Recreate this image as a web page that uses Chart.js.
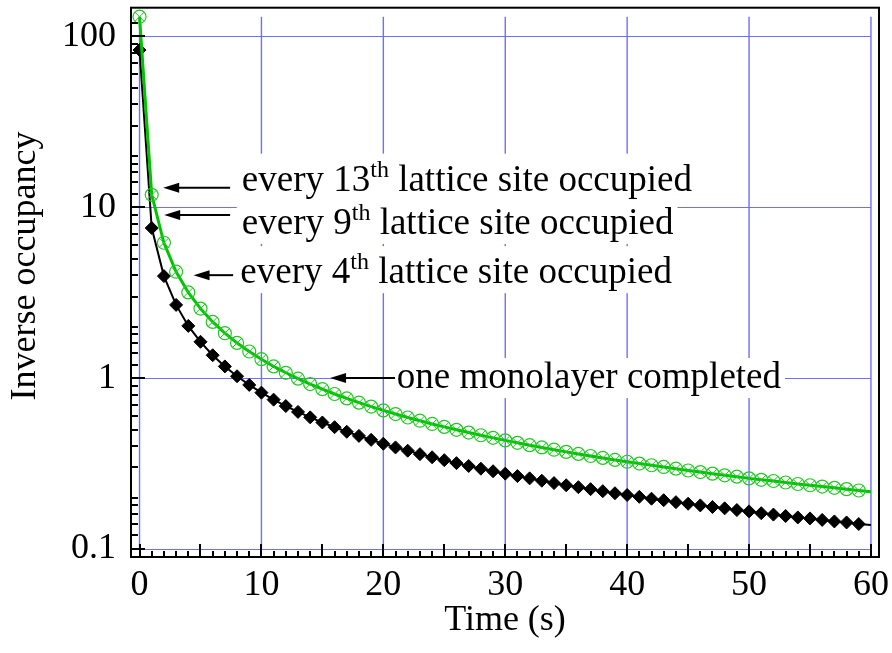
<!DOCTYPE html>
<html lang="en">
<head>
  <meta charset="UTF-8">
  <title>Inverse occupancy vs time</title>
  <script src="https://cdn.jsdelivr.net/npm/chart.js@4.4.5/dist/chart.umd.min.js"></script>
  <style>
    html, body { margin: 0; padding: 0; background: #fff; }
    #wrap { width: 892px; height: 653px; }
  </style>
</head>
<body>
  <div id="wrap"><canvas id="occupancyChart" width="892" height="653"></canvas></div>

  <script>
    // Time axis (s), one sample per second
    const times = [0, 1, 2, 3, 4, 5, 6, 7, 8, 9, 10, 11, 12, 13, 14, 15, 16, 17, 18, 19,
      20, 21, 22, 23, 24, 25, 26, 27, 28, 29, 30, 31, 32, 33, 34, 35, 36, 37, 38, 39,
      40, 41, 42, 43, 44, 45, 46, 47, 48, 49, 50, 51, 52, 53, 54, 55, 56, 57, 58, 59, 60];

    // Green series (open circles with cross)
    const greenValues = [130, 11.8, 6.19, 4.19, 3.17, 2.55, 2.13, 1.83, 1.605, 1.43,
      1.29, 1.17, 1.074, 0.992, 0.922, 0.861, 0.807, 0.760, 0.718, 0.681,
      0.647, 0.616, 0.588, 0.563, 0.539, 0.518, 0.498, 0.480, 0.463, 0.447,
      0.432, 0.418, 0.405, 0.393, 0.381, 0.370, 0.360, 0.350, 0.341, 0.332,
      0.324, 0.316, 0.309, 0.302, 0.295, 0.288, 0.282, 0.276, 0.270, 0.265,
      0.259, 0.254, 0.250, 0.245, 0.240, 0.236, 0.232, 0.228, 0.224, 0.220, 0.216];

    // Black series (filled diamonds)
    const blackValues = [83, 7.55, 3.95, 2.68, 2.02, 1.63, 1.36, 1.17, 1.025, 0.912,
      0.822, 0.748, 0.686, 0.634, 0.589, 0.550, 0.516, 0.485, 0.459, 0.435,
      0.413, 0.393, 0.376, 0.359, 0.344, 0.331, 0.318, 0.306, 0.295, 0.285,
      0.276, 0.267, 0.259, 0.251, 0.243, 0.236, 0.230, 0.224, 0.218, 0.212,
      0.207, 0.202, 0.197, 0.193, 0.188, 0.184, 0.180, 0.176, 0.173, 0.169,
      0.166, 0.162, 0.159, 0.156, 0.153, 0.151, 0.148, 0.145, 0.143, 0.140, 0.138];

    const xTickValues = [0, 10, 20, 30, 40, 50, 60];
    const xTickLabels = ['0', '10', '20', '30', '40', '50', '60'];
    const yTickValues = [0.1, 1, 10, 100];
    const yTickLabels = ['0.1', '1', '10', '100'];
    const yMinorTicks = [1.2, 1.4, 1.6, 1.8, 2, 3, 4, 5, 6, 7, 8, 9];

    const lastMarker = times.length - 2;   // the curve runs on to 60 s, markers stop at 59 s
    const serif = '"Liberation Serif", "Times New Roman", serif';
    const gridBlue = '#6f6fff';
    const green = '#00c400';

    const notes = [
      { pre: 'every 13', sup: 'th', post: ' lattice site occupied', level: 13, tipX: 1.94, tailX: 7.43, textX: 8.39, dy: 3 },
      { pre: 'every 9', sup: 'th', post: ' lattice site occupied', level: 9, tipX: 2.02, tailX: 7.43, textX: 8.39, dy: 19 },
      { pre: 'every 4', sup: 'th', post: ' lattice site occupied', level: 4, tipX: 4.43, tailX: 7.68, textX: 8.27, dy: 8 },
      { pre: 'one monolayer completed', sup: '', post: '', level: 1, tipX: 15.63, tailX: 20.96, textX: 21.1, dy: 10 }
    ];

    function pts(values) {
      return times.map((t, i) => ({ x: t, y: values[i] }));
    }

    function markerRadius(r) {
      return ctx => (ctx.dataIndex <= lastMarker ? r : 0);
    }

    // measure a note: returns pixel positions of its pieces
    function layoutNote(ctx, note, xs, ys) {
      const arrowY = ys.getPixelForValue(note.level);
      const left = xs.getPixelForValue(note.textX);
      const base = arrowY + note.dy;
      ctx.font = '37px ' + serif;
      const wPre = ctx.measureText(note.pre).width;
      const wPost = ctx.measureText(note.post).width;
      ctx.font = '24px ' + serif;
      const wSup = note.sup ? ctx.measureText(note.sup).width : 0;
      return {
        arrowY, left, base, wPre, wSup,
        right: left + wPre + wSup + wPost,
        top: base - (note.sup ? 37 : 30),
        bottom: base + 10
      };
    }

    const decorations = {
      id: 'decorations',
      beforeDatasetsDraw(chart) {
        const { ctx, scales: { x, y } } = chart;
        ctx.save();
        // grid lines cover the data range only
        ctx.strokeStyle = gridBlue;
        ctx.lineWidth = 1.4;
        ctx.beginPath();
        for (const v of xTickValues) {
          const px = x.getPixelForValue(v);
          ctx.moveTo(px, y.getPixelForValue(0.1));
          ctx.lineTo(px, y.getPixelForValue(130));
        }
        ctx.stroke();
        ctx.lineWidth = 1;
        ctx.beginPath();
        for (const v of yTickValues) {
          const py = Math.round(y.getPixelForValue(v)) + 0.5;
          ctx.moveTo(x.getPixelForValue(0), py);
          ctx.lineTo(x.getPixelForValue(60), py);
        }
        ctx.stroke();
        // white boxes behind the notes
        ctx.fillStyle = '#fff';
        for (const n of notes) {
          const L = layoutNote(ctx, n, x, y);
          ctx.fillRect(L.left - 5, L.top, L.right - L.left + 9, L.bottom - L.top);
        }
        ctx.restore();
      },
      afterDatasetsDraw(chart) {
        const { ctx, chartArea: a, scales: { x, y } } = chart;
        ctx.save();
        // notes with arrows
        for (const n of notes) {
          const L = layoutNote(ctx, n, x, y);
          const tip = x.getPixelForValue(n.tipX);
          const tail = x.getPixelForValue(n.tailX);
          ctx.strokeStyle = '#000';
          ctx.fillStyle = '#000';
          ctx.lineWidth = 2;
          ctx.beginPath();
          ctx.moveTo(tail, L.arrowY);
          ctx.lineTo(tip + 10, L.arrowY);
          ctx.stroke();
          ctx.beginPath();
          ctx.moveTo(tip, L.arrowY);
          ctx.lineTo(tip + 16, L.arrowY - 5);
          ctx.lineTo(tip + 16, L.arrowY + 5);
          ctx.closePath();
          ctx.fill();

          ctx.textAlign = 'left';
          ctx.textBaseline = 'alphabetic';
          ctx.font = '37px ' + serif;
          ctx.fillText(n.pre, L.left, L.base);
          if (n.sup) {
            ctx.font = '24px ' + serif;
            ctx.fillText(n.sup, L.left + L.wPre, L.base - 14);
            ctx.font = '37px ' + serif;
            ctx.fillText(n.post, L.left + L.wPre + L.wSup, L.base);
          }
        }

        // frame
        ctx.strokeStyle = '#000';
        ctx.lineWidth = 2;
        ctx.strokeRect(a.left, a.top, a.right - a.left, a.bottom - a.top);

        // inward ticks
        ctx.lineWidth = 2;
        ctx.beginPath();
        for (let v = 0; v <= 60; v++) {
          const px = Math.round(x.getPixelForValue(v));
          const len = v % 5 === 0 ? 13 : 6;
          ctx.moveTo(px, a.bottom);
          ctx.lineTo(px, a.bottom - len);
        }
        for (const d of [0.1, 1, 10, 100]) {
          const py = Math.round(y.getPixelForValue(d));
          ctx.moveTo(a.left, py);
          ctx.lineTo(a.left + 14, py);
          for (const m of yMinorTicks) {
            const v = d * m;
            if (v > 130) continue;
            const pm = Math.round(y.getPixelForValue(v));
            ctx.moveTo(a.left, pm);
            ctx.lineTo(a.left + 7, pm);
          }
        }
        ctx.stroke();

        // axis titles
        ctx.fillStyle = '#000';
        ctx.font = '36px ' + serif;
        ctx.textAlign = 'center';
        ctx.textBaseline = 'alphabetic';
        ctx.fillText('Time (s)', (a.left + a.right) / 2, 630);
        ctx.translate(35, 266);
        ctx.rotate(-Math.PI / 2);
        ctx.fillText('Inverse occupancy', 0, 0);
        ctx.restore();
      }
    };

    new Chart(document.getElementById('occupancyChart'), {
      type: 'line',
      data: {
        datasets: [
          {
            label: 'green crosses',
            data: pts(greenValues),
            showLine: false,
            pointStyle: 'crossRot',
            pointRadius: markerRadius(6.5),
            pointBorderColor: '#22c822',
            pointBorderWidth: 1,
            pointBackgroundColor: 'rgba(0,0,0,0)'
          },
          {
            label: 'green',
            data: pts(greenValues),
            borderColor: green,
            borderWidth: 3,
            tension: 0,
            pointStyle: 'circle',
            pointRadius: markerRadius(6.5),
            pointBorderColor: '#22c822',
            pointBorderWidth: 1.2,
            pointBackgroundColor: 'rgba(0,0,0,0)'
          },
          {
            label: 'black',
            data: pts(blackValues),
            borderColor: '#000',
            borderWidth: 2,
            tension: 0,
            pointStyle: 'rectRot',
            pointRadius: markerRadius(6.5),
            pointBorderColor: '#000',
            pointBorderWidth: 1,
            pointBackgroundColor: '#000'
          }
        ]
      },
      options: {
        responsive: false,
        animation: false,
        devicePixelRatio: 1,
        layout: { padding: { top: 6, right: 13, left: 0, bottom: 0 } },
        plugins: { legend: { display: false }, tooltip: { enabled: false } },
        scales: {
          x: {
            type: 'linear',
            min: -0.7,
            max: 60.66,
            grid: { display: false, drawTicks: false },
            border: { display: false },
            afterBuildTicks: s => { s.ticks = xTickValues.map(v => ({ value: v })); },
            afterFit: s => { s.height = 96; s.paddingLeft = 0; s.paddingRight = 0; },
            ticks: {
              autoSkip: false,
              maxRotation: 0,
              padding: 7,
              color: '#000',
              font: { family: serif, size: 36 },
              callback: (v, i) => xTickLabels[i]
            }
          },
          y: {
            type: 'logarithmic',
            min: 0.0898,
            max: 146.8,
            grid: { display: false, drawTicks: false },
            border: { display: false },
            afterBuildTicks: s => { s.ticks = yTickValues.map(v => ({ value: v })); },
            afterFit: s => { s.width = 131; s.paddingTop = 0; s.paddingBottom = 0; },
            ticks: {
              autoSkip: false,
              padding: 15,
              color: '#000',
              font: { family: serif, size: 36 },
              callback: (v, i) => yTickLabels[i]
            }
          }
        }
      },
      plugins: [decorations]
    });
  </script>
</body>
</html>
